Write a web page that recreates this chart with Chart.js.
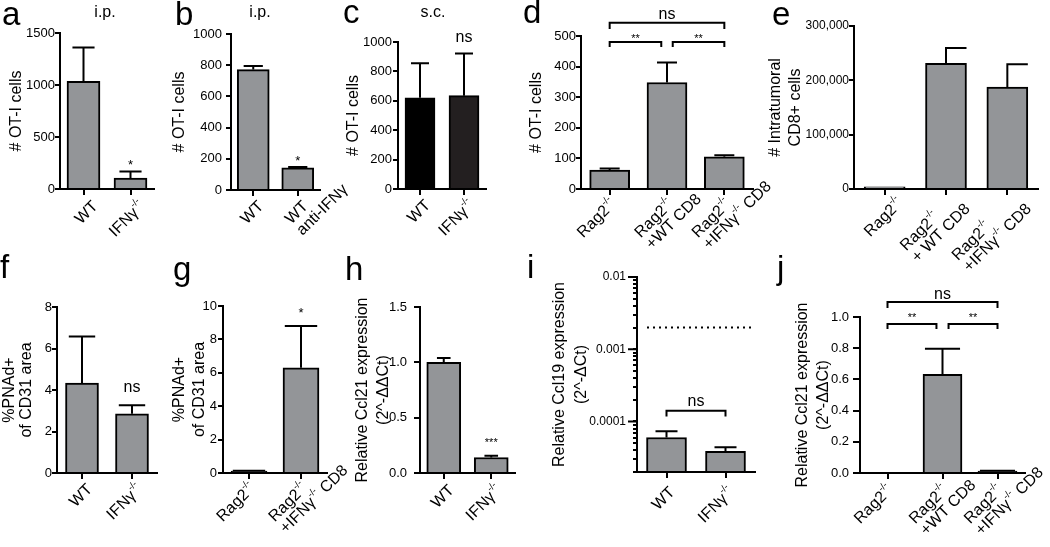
<!DOCTYPE html>
<html>
<head>
<meta charset="utf-8">
<script src="https://cdn.jsdelivr.net/npm/chart.js@4.4.1/dist/chart.umd.min.js"></script>
<style>
html, body { margin: 0; padding: 0; background: #fff; }
#fig { position: relative; width: 1050px; height: 547px; overflow: hidden; font-family: "Liberation Sans", Arial, Helvetica, sans-serif; color: #000; }
#fig canvas { position: absolute; left: 0; top: 0; }
.letter { position: absolute; font-size: 33px; line-height: 33px; }
.cond { position: absolute; font-size: 16px; line-height: 16px; width: 60px; text-align: center; }
</style>
</head>
<body>
<div id="fig">
  <canvas id="pa" width="1050" height="547"></canvas>
  <canvas id="pb" width="1050" height="547"></canvas>
  <canvas id="pc" width="1050" height="547"></canvas>
  <canvas id="pd" width="1050" height="547"></canvas>
  <canvas id="pe" width="1050" height="547"></canvas>
  <canvas id="pf" width="1050" height="547"></canvas>
  <canvas id="pg" width="1050" height="547"></canvas>
  <canvas id="ph" width="1050" height="547"></canvas>
  <canvas id="pi" width="1050" height="547"></canvas>
  <canvas id="pj" width="1050" height="547"></canvas>

  <div class="letter" style="left:2px;top:-3px">a</div>
  <div class="letter" style="left:175px;top:-3px">b</div>
  <div class="letter" style="left:343px;top:-5px">c</div>
  <div class="letter" style="left:523px;top:-5px">d</div>
  <div class="letter" style="left:772px;top:-3px">e</div>
  <div class="letter" style="left:0px;top:250px">f</div>
  <div class="letter" style="left:173px;top:252px">g</div>
  <div class="letter" style="left:345px;top:252px">h</div>
  <div class="letter" style="left:527px;top:250px">i</div>
  <div class="letter" style="left:777px;top:251px">j</div>

  <div class="cond" style="left:75px;top:4px">i.p.</div>
  <div class="cond" style="left:230px;top:4px">i.p.</div>
  <div class="cond" style="left:403px;top:4px">s.c.</div>
</div>

<script>
const FONT = '"Liberation Sans", Arial, Helvetica, sans-serif';
const GREY = '#939598';

// a - i.p., OT-I counts
const aLabels = [['WT'], ['IFNγ-/-']];
const aValues = [1035, 105];
const aErrTop = [1360, 168];
const aTicks = [0, 500, 1000, 1500];
const aMarks = [{ at: 1, y: 260, text: '*', size: 13 }];

// b - i.p., anti-IFNγ
const bLabels = [['WT'], ['WT', 'anti-IFNγ']];
const bValues = [772, 142];
const bErrTop = [795, 147];
const bTicks = [0, 200, 400, 600, 800, 1000];
const bMarks = [{ at: 1, y: 205, text: '*', size: 13 }];

// c - s.c.
const cLabels = [['WT'], ['IFNγ-/-']];
const cValues = [621, 635];
const cErrTop = [855, 922];
const cTicks = [0, 200, 400, 600, 800, 1000];
const cMarks = [{ at: 1, y: 1027, text: 'ns', size: 16 }];

// d - Rag2 transfers
const dLabels = [['Rag2-/-'], ['Rag2-/-', '+WT CD8'], ['Rag2-/-', '+IFNγ-/- CD8']];
const dValues = [62, 348, 105];
const dErrTop = [67, 413, 110];
const dTicks = [0, 100, 200, 300, 400, 500];
const dBrackets = [
  { from: 0, to: 2, y: 543, leg: 523, text: 'ns', textY: 569, size: 16 },
  { from: 0, to: 0.9, y: 480, leg: 464, text: '**', textY: 500, size: 11 },
  { from: 1.1, to: 2, y: 480, leg: 464, text: '**', textY: 500, size: 11 }
];

// e - intratumoral CD8+
const eLabels = [['Rag2-/-'], ['Rag2-/-', '+ WT CD8'], ['Rag2-/-', '+IFNγ-/- CD8']];
const eValues = [4000, 231500, 187500];
const eErrTop = [null, 259500, 229500];
const eTicks = [0, 100000, 200000, 300000];

// f - %PNAd+
const fLabels = [['WT'], ['IFNγ-/-']];
const fValues = [4.33, 2.85];
const fErrTop = [6.58, 3.27];
const fTicks = [0, 2, 4, 6, 8];
const fMarks = [{ at: 1, y: 4.1, text: 'ns', size: 16 }];

// g - %PNAd+ Rag2
const gLabels = [['Rag2-/-'], ['Rag2-/-', '+IFNγ-/- CD8']];
const gValues = [0.12, 6.3];
const gErrTop = [0.14, 8.8];
const gTicks = [0, 2, 4, 6, 8, 10];
const gMarks = [{ at: 1, y: 9.8, text: '*', size: 13 }];

// h - Ccl21
const hLabels = [['WT'], ['IFNγ-/-']];
const hValues = [1.0, 0.14];
const hErrTop = [1.04, 0.155];
const hTicks = [0, 0.5, 1.0, 1.5];
const hMarks = [{ at: 1, y: 0.30, text: '***', size: 11 }];

// i - Ccl19 (log)
const iLabels = [['WT'], ['IFNγ-/-']];
const iValues = [6.0e-5, 3.85e-5];
const iErrTop = [7.3e-5, 4.4e-5];
const iTicks = [2e-5, 3e-5, 4e-5, 5e-5, 6e-5, 7e-5, 8e-5, 9e-5,
  1e-4, 2e-4, 3e-4, 4e-4, 5e-4, 6e-4, 7e-4, 8e-4, 9e-4,
  1e-3, 2e-3, 3e-3, 4e-3, 5e-3, 6e-3, 7e-3, 8e-3, 9e-3, 1e-2];
const iDecades = [1e-4, 1e-3, 1e-2];
const iDecadeLabels = ['0.0001', '0.001', '0.01'];
const iThreshold = 0.002;
const iBrackets = [{ from: 0, to: 1, y: 1.41e-4, leg: 1.17e-4, text: 'ns', textY: 1.89e-4, size: 16 }];

// j - Ccl21 Rag2
const jLabels = [['Rag2-/-'], ['Rag2-/-', '+WT CD8'], ['Rag2-/-', '+IFNγ-/- CD8']];
const jValues = [0, 0.632, 0.012];
const jErrTop = [null, 0.797, 0.015];
const jTicks = [0, 0.2, 0.4, 0.6, 0.8, 1.0];
const jBrackets = [
  { from: 0, to: 2, y: 1.096, leg: 1.058, text: 'ns', textY: 1.141, size: 16 },
  { from: 0, to: 0.89, y: 0.955, leg: 0.923, text: '**', textY: 1.013, size: 11 },
  { from: 1.11, to: 2, y: 0.955, leg: 0.923, text: '**', textY: 1.013, size: 11 }
];

// text with "-/-" set as superscript
function richText(ctx, text, x, y, size, draw) {
  const parts = text.split('-/-');
  let cx = x;
  parts.forEach((p, k) => {
    if (p) {
      ctx.font = size + 'px ' + FONT;
      if (draw) ctx.fillText(p, cx, y);
      cx += ctx.measureText(p).width;
    }
    if (k < parts.length - 1) {
      const s = size * 0.6;
      ctx.font = s + 'px ' + FONT;
      if (draw) ctx.fillText('-/-', cx, y - size * 0.38);
      cx += ctx.measureText('-/-').width;
    }
  });
  return cx - x;
}

function drawNote(ctx, text, x, yc, size) {
  ctx.font = size + 'px ' + FONT;
  ctx.textAlign = 'center';
  ctx.textBaseline = 'alphabetic';
  const k = text.indexOf('*') >= 0 ? 0.57 : 0.26;
  ctx.fillText(text, x, yc + k * size);
}

function makePanel(cfg) {
  const box = cfg.box;
  const lh = 16 * cfg.titleLH;
  const scaleLeft = cfg.titleX - lh / 2;
  const yW = box.x0 - scaleLeft;
  const xH = 8;
  const L = cfg.lab;

  const extras = {
    id: 'extras_' + cfg.id,
    afterDatasetsDraw(chart) {
      const ctx = chart.ctx;
      const ys = chart.scales.y;
      const meta = chart.getDatasetMeta(0);
      ctx.save();
      ctx.strokeStyle = '#000';
      ctx.lineWidth = 2;
      meta.data.forEach((bar, i) => {
        const top = cfg.errTop[i];
        if (top == null) return;
        const yv = ys.getPixelForValue(cfg.values[i]);
        const ye = ys.getPixelForValue(top);
        const half = bar.width * cfg.capFrac / 2;
        ctx.beginPath();
        ctx.moveTo(bar.x, yv);
        ctx.lineTo(bar.x, ye);
        if (cfg.capSide === 'right') {
          ctx.moveTo(bar.x - 1, ye);
          ctx.lineTo(bar.x + half, ye);
        } else {
          ctx.moveTo(bar.x - half, ye);
          ctx.lineTo(bar.x + half, ye);
        }
        ctx.stroke();
      });
      ctx.restore();
    },
    afterDraw(chart) {
      const ctx = chart.ctx;
      const xs = chart.scales.x;
      const ys = chart.scales.y;
      const area = chart.chartArea;
      ctx.save();
      ctx.fillStyle = '#000';
      ctx.strokeStyle = '#000';

      // significance marks
      (cfg.marks || []).forEach(m => {
        drawNote(ctx, m.text, xs.getPixelForValue(m.at), ys.getPixelForValue(m.y), m.size);
      });

      // brackets
      (cfg.brackets || []).forEach(b => {
        const xa = xs.getPixelForValue(b.from);
        const xb = xs.getPixelForValue(b.to);
        const yl = ys.getPixelForValue(b.y);
        const yg = ys.getPixelForValue(b.leg);
        ctx.lineWidth = 2;
        ctx.lineJoin = 'miter';
        ctx.beginPath();
        ctx.moveTo(xa, yg);
        ctx.lineTo(xa, yl);
        ctx.lineTo(xb, yl);
        ctx.lineTo(xb, yg);
        ctx.stroke();
        drawNote(ctx, b.text, (xa + xb) / 2, ys.getPixelForValue(b.textY), b.size);
      });

      // dotted reference line
      if (cfg.threshold) {
        const y = ys.getPixelForValue(cfg.threshold);
        ctx.lineWidth = 2;
        ctx.setLineDash([2, 4]);
        ctx.beginPath();
        ctx.moveTo(area.left + 10, y);
        ctx.lineTo(area.right - 3, y);
        ctx.stroke();
        ctx.setLineDash([]);
      }

      // longer ticks at decades on log axis
      if (cfg.majors) {
        ctx.lineWidth = 2;
        cfg.majors.forEach(v => {
          const y = ys.getPixelForValue(v);
          ctx.beginPath();
          ctx.moveTo(area.left - 9, y);
          ctx.lineTo(area.left, y);
          ctx.stroke();
        });
      }

      // rotated category labels
      ctx.textAlign = 'left';
      ctx.textBaseline = 'middle';
      cfg.labels.forEach((lines, i) => {
        const tx = xs.getPixelForValue(i);
        ctx.save();
        ctx.translate(tx + L.dx, area.bottom + L.dy);
        ctx.rotate(-Math.PI / 4);
        const ws = lines.map(t => richText(ctx, t, 0, 0, L.size, false));
        const W = Math.max(...ws);
        let start, y0;
        if (L.mode === 'block') {
          start = -W;
          y0 = -(lines.length - 1) * L.lh / 2;
        } else {
          start = -ws[0];
          y0 = 0;
        }
        lines.forEach((t, k) => richText(ctx, t, start, y0 + k * L.lh, L.size, true));
        ctx.restore();
      });
      ctx.restore();
    }
  };

  new Chart(document.getElementById('p' + cfg.id), {
    type: 'bar',
    data: {
      labels: cfg.labels.map(l => l.join(' ')),
      datasets: [{
        data: cfg.values,
        backgroundColor: cfg.colors || GREY,
        borderColor: '#000',
        borderWidth: 2,
        borderSkipped: 'start',
        barThickness: cfg.barW
      }]
    },
    options: {
      responsive: false,
      animation: false,
      events: [],
      layout: {
        padding: { left: scaleLeft, top: box.top, right: 1050 - box.x1, bottom: 547 - box.bot - xH }
      },
      plugins: { legend: { display: false }, tooltip: { enabled: false } },
      scales: {
        x: {
          grid: { display: true, drawOnChartArea: false, offset: false, tickLength: 6, lineWidth: 2, color: '#000' },
          border: { display: true, width: 2, color: '#000', z: 1 },
          ticks: { display: false },
          afterFit: s => { s.height = xH; }
        },
        y: {
          type: cfg.log ? 'logarithmic' : 'linear',
          min: cfg.yTicks[0],
          max: cfg.yTicks[cfg.yTicks.length - 1],
          grid: { display: true, drawOnChartArea: false, tickLength: cfg.tickLen, lineWidth: 2, color: '#000' },
          border: { display: true, width: 2, color: '#000', z: 1 },
          ticks: {
            color: '#000',
            font: { family: FONT, size: cfg.tickSize },
            padding: cfg.tickPad,
            autoSkip: false,
            callback: v => cfg.fmt(v)
          },
          afterBuildTicks: s => { s.ticks = cfg.yTicks.map(v => ({ value: v })); },
          title: {
            display: true,
            text: cfg.yTitle,
            color: '#000',
            font: { family: FONT, size: 16, lineHeight: cfg.titleLH },
            padding: 0
          },
          afterFit: s => { s.width = yW; }
        }
      }
    },
    plugins: [extras]
  });
}

const plain = v => String(v);
const oneDec = v => Number(v).toFixed(1);

makePanel({ id: 'a', labels: aLabels, values: aValues, errTop: aErrTop, yTicks: aTicks, fmt: plain,
  yTitle: '# OT-I cells', marks: aMarks,
  box: { x0: 60, x1: 154, top: 33, bot: 189 }, titleX: 17, titleLH: 1.2,
  barW: 33, capFrac: 0.67, tickSize: 13, tickLen: 5, tickPad: 0,
  lab: { dx: 12, dy: 15, mode: 'first', size: 16, lh: 16 } });

makePanel({ id: 'b', labels: bLabels, values: bValues, errTop: bErrTop, yTicks: bTicks, fmt: plain,
  yTitle: '# OT-I cells', marks: bMarks,
  box: { x0: 231, x1: 320, top: 34, bot: 190 }, titleX: 180, titleLH: 1.2,
  barW: 32, capFrac: 0.6, tickSize: 13, tickLen: 5, tickPad: 4,
  lab: { dx: 8, dy: 14, mode: 'first', size: 16, lh: 16 } });

makePanel({ id: 'c', labels: cLabels, values: cValues, errTop: cErrTop, yTicks: cTicks, fmt: plain,
  yTitle: '# OT-I cells', marks: cMarks, colors: ['#000000', '#231f20'],
  box: { x0: 398, x1: 486, top: 42, bot: 189 }, titleX: 354, titleLH: 1.2,
  barW: 30, capFrac: 0.6, tickSize: 13, tickLen: 5, tickPad: 1,
  lab: { dx: 8, dy: 14, mode: 'first', size: 16, lh: 16 } });

makePanel({ id: 'd', labels: dLabels, values: dValues, errTop: dErrTop, yTicks: dTicks, fmt: plain,
  yTitle: '# OT-I cells', brackets: dBrackets,
  box: { x0: 581, x1: 753, top: 36, bot: 189 }, titleX: 537, titleLH: 1.2,
  barW: 40, capFrac: 0.5, tickSize: 13, tickLen: 5, tickPad: 0,
  lab: { dx: 4, dy: 13, mode: 'first', size: 16, lh: 16 } });

makePanel({ id: 'e', labels: eLabels, values: eValues, errTop: eErrTop, yTicks: eTicks,
  fmt: v => Number(v).toLocaleString('en-US'),
  yTitle: ['# Intratumoral', 'CD8+ cells'],
  box: { x0: 854, x1: 1038, top: 26, bot: 189 }, titleX: 776, titleLH: 1.25,
  barW: 41, capFrac: 1.0, capSide: 'right', tickSize: 12, tickLen: 5, tickPad: 0,
  lab: { dx: 16, dy: 12, mode: 'block', size: 16, lh: 16 } });

makePanel({ id: 'f', labels: fLabels, values: fValues, errTop: fErrTop, yTicks: fTicks, fmt: plain,
  yTitle: ['%PNAd+', 'of CD31 area'], marks: fMarks,
  box: { x0: 57, x1: 157, top: 307, bot: 473 }, titleX: 10, titleLH: 1.0625,
  barW: 33, capFrac: 0.8, tickSize: 13, tickLen: 5, tickPad: 0,
  lab: { dx: 8, dy: 14, mode: 'first', size: 16, lh: 16 } });

makePanel({ id: 'g', labels: gLabels, values: gValues, errTop: gErrTop, yTicks: gTicks, fmt: plain,
  yTitle: ['%PNAd+', 'of CD31 area'], marks: gMarks,
  box: { x0: 223, x1: 327, top: 306, bot: 473 }, titleX: 180, titleLH: 1.25,
  barW: 36, capFrac: 0.9, tickSize: 13, tickLen: 5, tickPad: 1,
  lab: { dx: 4, dy: 13, mode: 'first', size: 16, lh: 16 } });

makePanel({ id: 'h', labels: hLabels, values: hValues, errTop: hErrTop, yTicks: hTicks, fmt: oneDec,
  yTitle: ['Relative Ccl21 expression', '(2^-ΔΔCt)'], marks: hMarks,
  box: { x0: 420, x1: 515, top: 307, bot: 473 }, titleX: 363, titleLH: 1.3,
  barW: 34, capFrac: 0.4, tickSize: 13, tickLen: 6, tickPad: 7,
  lab: { dx: 8, dy: 15, mode: 'first', size: 16, lh: 16 } });

makePanel({ id: 'i', labels: iLabels, values: iValues, errTop: iErrTop, yTicks: iTicks,
  fmt: v => { const k = iDecades.indexOf(v); return k >= 0 ? iDecadeLabels[k] : ''; },
  log: true, majors: iDecades, threshold: iThreshold,
  yTitle: ['Relative Ccl19 expression', '(2^-ΔCt)'], brackets: iBrackets,
  box: { x0: 637, x1: 755, top: 277, bot: 472 }, titleX: 560, titleLH: 1.375,
  barW: 40, capFrac: 0.55, tickSize: 12, tickLen: 4, tickPad: 7,
  lab: { dx: 6, dy: 18, mode: 'first', size: 16, lh: 16 } });

makePanel({ id: 'j', labels: jLabels, values: jValues, errTop: jErrTop, yTicks: jTicks, fmt: oneDec,
  yTitle: ['Relative Ccl21 expression', '(2^-ΔΔCt)'], brackets: jBrackets,
  box: { x0: 860, x1: 1025, top: 317, bot: 473 }, titleX: 803, titleLH: 1.3,
  barW: 39, capFrac: 0.9, tickSize: 13, tickLen: 7, tickPad: 4,
  lab: { dx: 3, dy: 15, mode: 'first', size: 16, lh: 16 } });
</script>
</body>
</html>
